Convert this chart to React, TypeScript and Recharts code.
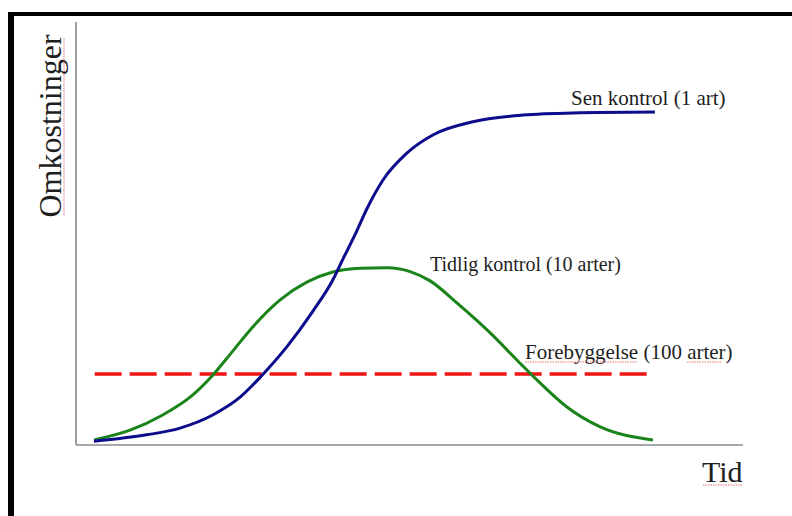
import React from "react";
import { LineChart, Line, XAxis, YAxis } from "recharts";

// Time (0-100) and cost (0-100)
const senTime = [2.7, 10.6, 15.6, 20.5, 24.6, 27.9, 31.6, 35.5, 38.5, 40.0, 41.8, 43.6, 46.0, 49.6, 53.5, 59.5, 67.0, 74.5, 86.8];
const senCost = [0.9, 2.4, 4.0, 7.1, 11.3, 16.5, 23.2, 31.6, 39.0, 43.9, 49.6, 55.8, 62.6, 69.0, 73.3, 76.4, 78.0, 78.5, 78.7];

const tidligTime = [2.7, 8.1, 13.0, 17.1, 20.5, 23.5, 26.5, 30.6, 34.6, 38.5, 42.6, 46.6, 50.1, 53.1, 57.1, 62.1, 66.1, 69.1, 73.6, 78.6, 86.5];
const tidligCost = [1.2, 3.5, 7.1, 11.3, 16.5, 22.2, 27.9, 34.3, 38.5, 40.9, 41.8, 41.9, 41.0, 38.8, 33.6, 26.5, 20.1, 15.4, 9.0, 4.3, 1.2];

const foreTime = [2.8, 85.6];
const foreCost = [16.8, 16.8];

const seriesLabels = ["Sen kontrol (1 art)", "Tidlig kontrol (10 arter)", "Forebyggelse (100 arter)"];
const axisTitles = { y: "Omkostninger", x: "Tid" };

const toRows = (ts: number[], vs: number[]) => ts.map((t, i) => ({ t, v: vs[i] }));

const senData = toRows(senTime, senCost);
const tidligData = toRows(tidligTime, tidligCost);
const foreData = toRows(foreTime, foreCost);

const FONT = '"Liberation Serif", "Times New Roman", serif';

export default function App() {
  return (
    <div style={{ position: "absolute", left: 0, top: 0, width: 792, height: 516, background: "#fff" }}>
      <div style={{ position: "absolute", left: 8, top: 12, width: 784, height: 4, background: "#000" }} />
      <div style={{ position: "absolute", left: 8, top: 12, width: 6, height: 504, background: "#000" }} />
      <div style={{ position: "absolute", left: 0, top: 0 }}>
        <LineChart width={792} height={516} margin={{ top: 22, right: 49, bottom: 70, left: 75 }}>
          <XAxis
            type="number"
            dataKey="t"
            domain={[0, 100]}
            allowDataOverflow
            tick={false}
            tickLine={false}
            height={1}
            axisLine={{ stroke: "#a8a8a8", strokeWidth: 2 }}
          />
          <YAxis
            type="number"
            dataKey="v"
            domain={[0, 100]}
            allowDataOverflow
            tick={false}
            tickLine={false}
            width={1}
            axisLine={{ stroke: "#808080", strokeWidth: 1.5 }}
          />
          <Line
            data={foreData}
            dataKey="v"
            type="linear"
            stroke="#f01414"
            strokeWidth={3.5}
            strokeDasharray="27 8"
            dot={false}
            isAnimationActive={false}
          />
          <Line
            data={tidligData}
            dataKey="v"
            type="monotone"
            stroke="#1a841a"
            strokeWidth={3}
            dot={false}
            isAnimationActive={false}
          />
          <Line
            data={senData}
            dataKey="v"
            type="monotone"
            stroke="#0c0c8c"
            strokeWidth={3}
            dot={false}
            isAnimationActive={false}
          />
        </LineChart>
      </div>
      <svg
        width={792}
        height={516}
        style={{ position: "absolute", left: 0, top: 0, pointerEvents: "none" }}
      >
        <g fontFamily={FONT} fill="#1e1e1e">
          <text x={571} y={105} fontSize={21}>{seriesLabels[0]}</text>
          <text x={430} y={271} fontSize={20}>{seriesLabels[1]}</text>
          <text x={525} y={359} fontSize={21}>{seriesLabels[2]}</text>
          <text x={702} y={482} fontSize={30}>{axisTitles.x}</text>
          <text x={61} y={126} fontSize={32} textAnchor="middle" transform="rotate(-90 61 126)">
            {axisTitles.y}
          </text>
        </g>
        <g stroke="#e05050" strokeWidth={1} strokeDasharray="1.5 1" opacity={0.8}>
          <line x1={64} y1={38} x2={64} y2={216} />
          <line x1={525} y1={362} x2={637} y2={362} />
          <line x1={687} y1={362} x2={722} y2={362} />
          <line x1={703} y1={485} x2={743} y2={485} />
        </g>
      </svg>
    </div>
  );
}
